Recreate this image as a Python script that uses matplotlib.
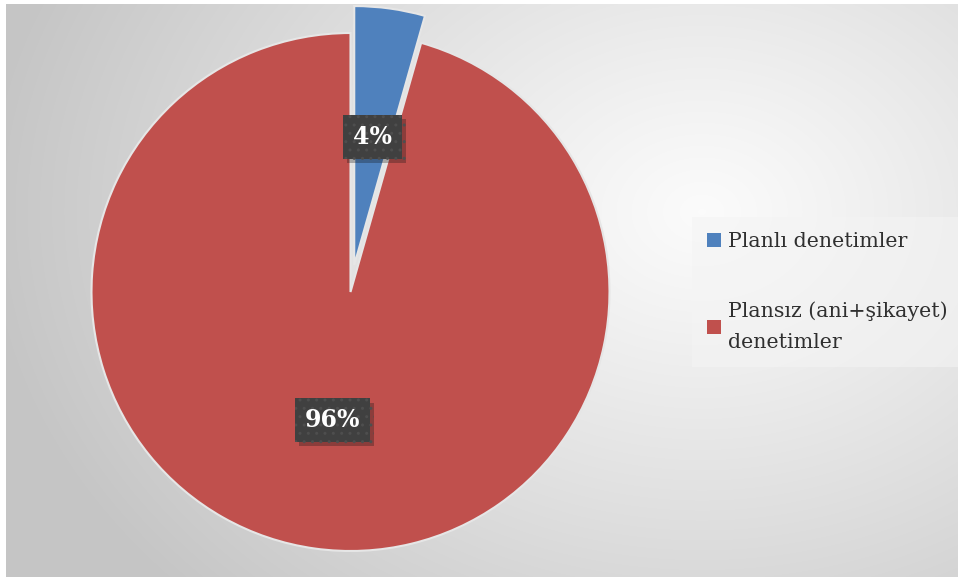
import numpy as np
import matplotlib
matplotlib.use("Agg")
import matplotlib.pyplot as plt
from matplotlib.patches import Patch
import matplotlib.patheffects as pe

categories = ["Planlı denetimler", "Plansız (ani+şikayet)\ndenetimler"]
values = [4.4, 95.6]
colors = ["#4F81BD", "#C0504D"]

W, H = 958, 580
fig = plt.figure(figsize=(W / 100, H / 100), dpi=100)
fig.patch.set_facecolor("white")

# background radial gradient
bg = fig.add_axes([6 / W, 3 / H, (W - 6) / W, (H - 7) / H])
bg.set_axis_off()
yy, xx = np.mgrid[0:H, 0:W]
cx, cy = 700, 210
d = np.sqrt(((xx - cx) / 720.0) ** 2 + ((yy - cy) / 560.0) ** 2)
d = np.clip(d, 0, 1)
v = 0.985 - 0.21 * d ** 1.1
img = np.dstack([v, v, v])
bg.imshow(img, aspect="auto", interpolation="bilinear")

# pie axes
R = 259.0
cxp, cyp = 350.5, 292.0
lim = 1.2
size = 2 * lim * R
ax = fig.add_axes([(cxp - size / 2) / W, (H - cyp - size / 2) / H, size / W, size / H])
ax.patch.set_alpha(0)

wedges, _, autotexts = ax.pie(values, colors=colors, startangle=90, counterclock=False,
                              explode=[0.105, 0], radius=1.0, autopct="%.0f%%",
                              pctdistance=0.5,
                              wedgeprops=dict(edgecolor="#e6e6e6", linewidth=1.5))
ax.set_xlim(-lim, lim)
ax.set_ylim(-lim, lim)
ax.set_aspect("equal")
ax.set_axis_off()
for w in wedges:
    w.set_clip_on(False)

for t in autotexts:
    t.set_color("white")
    t.set_fontsize(17)
    t.set_fontweight("bold")
    t.set_family("DejaVu Serif")
    t.set_bbox(dict(boxstyle="square,pad=0.42", fc="#404040", ec="#4e4e4e",
                    lw=0, hatch=".."))
    t.get_bbox_patch().set_path_effects([pe.SimplePatchShadow(offset=(3, -3), alpha=0.3), pe.Normal()])

handles = [Patch(facecolor=c, edgecolor="none") for c in colors]
leg = fig.legend(handles, categories, loc="center left",
                 bbox_to_anchor=(692 / W, 1 - 292 / H),
                 frameon=True, fancybox=False,
                 prop=dict(family="DejaVu Serif", size=14.8),
                 handlelength=0.65, handleheight=0.65, handletextpad=0.35,
                 labelspacing=2.45, borderpad=0.75, borderaxespad=0)
leg.get_frame().set_facecolor("#f4f4f4")
leg.get_frame().set_alpha(0.6)
leg.get_frame().set_edgecolor("none")
for txt in leg.get_texts():
    txt.set_color("#303030")
    txt.set_linespacing(1.75)

fig.savefig("out.png", dpi=100)
